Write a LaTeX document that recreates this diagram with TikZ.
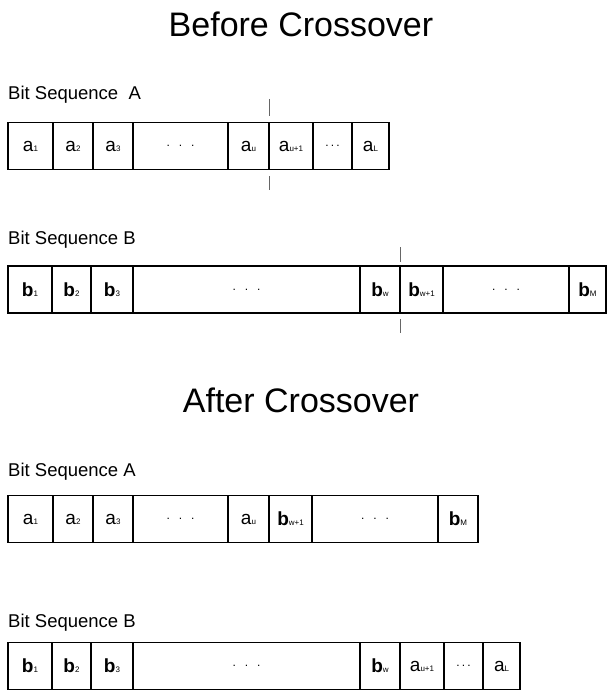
\documentclass[tikz,border=0pt]{standalone}
\usepackage{fontspec}
\setmainfont{Liberation Sans}
\newcommand{\lsub}[1]{{\fontsize{8}{8}\selectfont #1}}
\newcommand{\wdots}{{\fontsize{12}{12}\selectfont .\hspace{9pt}.\hspace{9pt}.}}
\newcommand{\ndots}{{\fontsize{12}{12}\selectfont .\hspace{2.2pt}.\hspace{2.2pt}.}}
\begin{document}
\begin{tikzpicture}[x=1pt,y=-1pt,
  cell/.style={draw=black,line width=1.8pt,inner sep=0pt,minimum height=47pt,
     font=\fontsize{19}{19}\selectfont},
  title/.style={font=\fontsize{34}{34}\selectfont,anchor=base,inner sep=0pt},
  seqlabel/.style={font=\fontsize{18.5}{18.5}\selectfont,anchor=base west,inner sep=0pt},
  cut/.style={draw=black!60,line width=0.9pt}]
\useasboundingbox (0,0) rectangle (608,695);

\node[title] (t1) at (301,37) {Before Crossover};
\node[seqlabel] (lA1) at (8,100) {Bit Sequence\ \ A};

% Row A before
\node[cell,minimum width=45pt] (A1) at (30.5,146) {a\lsub{1}};
\node[cell,minimum width=40pt] (A2) at (73,146) {a\lsub{2}};
\node[cell,minimum width=40pt] (A3) at (113,146) {a\lsub{3}};
\node[cell,minimum width=95pt] (A4) at (180.5,146) {\wdots};
\node[cell,minimum width=41pt] (A5) at (248.5,146) {a\lsub{u}};
\node[cell,minimum width=44pt] (A6) at (291,146) {a\lsub{u+1}};
\node[cell,minimum width=39pt] (A7) at (332.5,146) {\ndots};
\node[cell,minimum width=37pt] (A8) at (370.5,146) {a\lsub{L}};

\coordinate (ca1) at (269,99);
\coordinate (ca2) at (269,116);
\coordinate (ca3) at (269,176);
\coordinate (ca4) at (269,190);
\draw[cut] (ca1) -- (ca2);
\draw[cut] (ca3) -- (ca4);

\node[seqlabel] (lB1) at (8,244) {Bit Sequence B};

% Row B before
\node[cell,minimum width=44pt] (B1) at (30,289.5) {\textbf{b}\lsub{1}};
\node[cell,minimum width=39pt] (B2) at (71.5,289.5) {\textbf{b}\lsub{2}};
\node[cell,minimum width=42pt] (B3) at (112,289.5) {\textbf{b}\lsub{3}};
\node[cell,minimum width=227pt] (B4) at (246.5,289.5) {\wdots};
\node[cell,minimum width=40pt] (B5) at (380,289.5) {\textbf{b}\lsub{w}};
\node[cell,minimum width=43pt] (B6) at (421.5,289.5) {\textbf{b}\lsub{w+1}};
\node[cell,minimum width=126pt] (B7) at (506,289.5) {\wdots};
\node[cell,minimum width=37pt] (B8) at (587.5,289.5) {\textbf{b}\lsub{M}};

\coordinate (cb1) at (400,247);
\coordinate (cb2) at (400,262);
\coordinate (cb3) at (400,319);
\coordinate (cb4) at (400,333);
\draw[cut] (cb1) -- (cb2);
\draw[cut] (cb3) -- (cb4);

\node[title] (t2) at (301,412) {After Crossover};
\node[seqlabel] (lA2) at (8,476) {Bit Sequence A};

% Row A after
\node[cell,minimum width=45pt] (C1) at (30.5,519) {a\lsub{1}};
\node[cell,minimum width=40pt] (C2) at (73,519) {a\lsub{2}};
\node[cell,minimum width=40pt] (C3) at (113,519) {a\lsub{3}};
\node[cell,minimum width=95pt] (C4) at (180.5,519) {\wdots};
\node[cell,minimum width=41pt] (C5) at (248.5,519) {a\lsub{u}};
\node[cell,minimum width=43pt] (C6) at (290.5,519) {\textbf{b}\lsub{w+1}};
\node[cell,minimum width=126pt] (C7) at (375,519) {\wdots};
\node[cell,minimum width=40pt] (C8) at (458,519) {\textbf{b}\lsub{M}};

\node[seqlabel] (lB2) at (8,627) {Bit Sequence B};

% Row B after
\node[cell,minimum width=44pt] (D1) at (30,666) {\textbf{b}\lsub{1}};
\node[cell,minimum width=39pt] (D2) at (71.5,666) {\textbf{b}\lsub{2}};
\node[cell,minimum width=42pt] (D3) at (112,666) {\textbf{b}\lsub{3}};
\node[cell,minimum width=227pt] (D4) at (246.5,666) {\wdots};
\node[cell,minimum width=40pt] (D5) at (380,666) {\textbf{b}\lsub{w}};
\node[cell,minimum width=44pt] (D6) at (422,666) {a\lsub{u+1}};
\node[cell,minimum width=39pt] (D7) at (463.5,666) {\ndots};
\node[cell,minimum width=37pt] (D8) at (501.5,666) {a\lsub{L}};
\end{tikzpicture}
\end{document}
